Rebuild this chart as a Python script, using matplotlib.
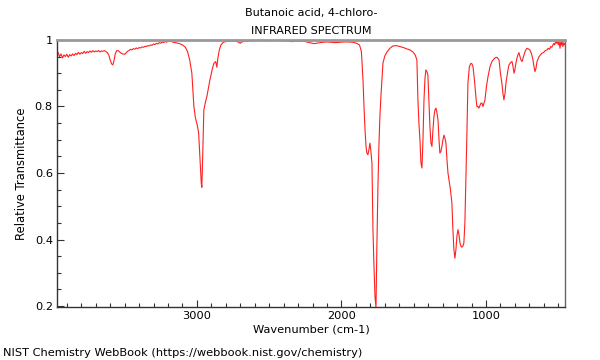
import matplotlib.pyplot as plt
from matplotlib.ticker import MultipleLocator, FormatStrFormatter

# -----------------------------
# Data
# -----------------------------
wavenumber = [
    3969, 3960, 3950, 3940, 3930, 3920, 3910, 3900, 3890, 3880, 3870, 3860,
    3850, 3840, 3830, 3820, 3810, 3800, 3790, 3780, 3770, 3760, 3750, 3740,
    3730, 3720, 3710, 3700, 3690, 3680, 3670, 3660, 3650, 3640, 3630, 3620,
    3610, 3600, 3590, 3582, 3575, 3565, 3555, 3545, 3530, 3515, 3500, 3490,
    3480, 3470, 3460, 3450, 3440, 3430, 3420, 3410, 3400, 3390, 3380, 3370,
    3360, 3350, 3340, 3330, 3320, 3310, 3300, 3290, 3280, 3270, 3260, 3250,
    3240, 3230, 3220, 3210, 3200, 3190, 3180, 3170, 3160, 3140, 3120, 3100,
    3080, 3065, 3050, 3035, 3021, 3010, 2998, 2988, 2978, 2970, 2966, 2960,
    2952, 2940, 2931, 2910, 2895, 2883, 2870, 2862, 2855, 2845, 2834, 2820,
    2806, 2780, 2750, 2720, 2700, 2690, 2660, 2620, 2580, 2540, 2500, 2460,
    2420, 2380, 2340, 2300, 2260, 2220, 2190, 2160, 2130, 2100, 2070, 2040,
    2010, 1980, 1950, 1920, 1895, 1875, 1862, 1856, 1851, 1844, 1837, 1830,
    1824, 1817, 1810, 1803, 1796, 1789, 1782, 1775, 1768, 1761, 1755, 1748,
    1741, 1734, 1727, 1713, 1700, 1685, 1665, 1644, 1620, 1596, 1570, 1547,
    1525, 1506, 1490, 1478, 1471, 1464, 1457, 1450, 1443, 1436, 1429, 1422,
    1416, 1409, 1402, 1395, 1388, 1381, 1374, 1367, 1360, 1353, 1346, 1339,
    1332, 1325, 1319, 1312, 1305, 1298, 1291, 1284, 1277, 1270, 1263, 1256,
    1246, 1236, 1229, 1222, 1215, 1208, 1201, 1194, 1187, 1180, 1173, 1167,
    1160, 1153, 1146, 1139, 1132, 1125, 1115, 1104, 1097, 1090, 1080, 1070,
    1063, 1056, 1049, 1040, 1035, 1028, 1021, 1014, 1007, 997, 986, 972,
    959, 945, 935, 924, 910, 900, 890, 883, 876, 868, 862, 855,
    848, 841, 830, 820, 813, 806, 800, 793, 786, 779, 772, 765,
    758, 751, 744, 737, 727, 717, 707, 696, 685, 675, 668, 661,
    654, 647, 635, 624, 613, 600, 590, 578, 570, 560, 553, 545,
    537, 530, 525, 518, 512, 506, 500, 494, 488, 483, 478, 474,
    468, 462, 456, 450,
]
transmittance = [
    0.955, 0.962, 0.950, 0.958, 0.946, 0.955, 0.950, 0.957, 0.948, 0.956, 0.952, 0.958,
    0.953, 0.960, 0.956, 0.963, 0.957, 0.962, 0.959, 0.966, 0.960, 0.965, 0.962, 0.967,
    0.963, 0.968, 0.964, 0.967, 0.965, 0.968, 0.964, 0.967, 0.966, 0.968, 0.965, 0.962,
    0.955, 0.940, 0.928, 0.925, 0.935, 0.958, 0.968, 0.968, 0.962, 0.958, 0.957, 0.961,
    0.966, 0.968, 0.972, 0.970, 0.974, 0.972, 0.976, 0.974, 0.977, 0.976, 0.979, 0.978,
    0.981, 0.980, 0.983, 0.982, 0.985, 0.984, 0.988, 0.986, 0.990, 0.988, 0.992, 0.990,
    0.994, 0.992, 0.996, 0.993, 0.997, 0.995, 0.998, 0.994, 0.993, 0.991, 0.989, 0.985,
    0.978, 0.965, 0.940, 0.900, 0.800, 0.765, 0.745, 0.720, 0.640, 0.570, 0.557, 0.650,
    0.790, 0.815, 0.830, 0.880, 0.910, 0.930, 0.935, 0.918, 0.945, 0.970, 0.985, 0.992,
    0.995, 0.996, 0.997, 0.995, 0.990, 0.994, 0.997, 0.998, 0.999, 0.999, 0.998, 0.999,
    0.998, 0.997, 0.995, 0.997, 0.996, 0.992, 0.989, 0.991, 0.993, 0.994, 0.993, 0.992,
    0.993, 0.994, 0.994, 0.993, 0.990, 0.985, 0.965, 0.920, 0.880, 0.800, 0.730, 0.680,
    0.660, 0.655, 0.670, 0.690, 0.665, 0.630, 0.430, 0.320, 0.227, 0.197, 0.377, 0.550,
    0.680, 0.770, 0.830, 0.930, 0.952, 0.964, 0.975, 0.982, 0.983, 0.980, 0.977, 0.973,
    0.970, 0.964, 0.955, 0.940, 0.820, 0.750, 0.700, 0.630, 0.615, 0.700, 0.820, 0.885,
    0.910, 0.905, 0.895, 0.820, 0.740, 0.690, 0.680, 0.730, 0.770, 0.790, 0.795, 0.780,
    0.760, 0.700, 0.660, 0.665, 0.680, 0.700, 0.714, 0.705, 0.690, 0.640, 0.600, 0.580,
    0.550, 0.510, 0.430, 0.370, 0.344, 0.370, 0.410, 0.430, 0.415, 0.390, 0.380, 0.377,
    0.380, 0.390, 0.450, 0.580, 0.720, 0.870, 0.920, 0.930, 0.928, 0.920, 0.880, 0.830,
    0.800, 0.800, 0.795, 0.805, 0.810, 0.810, 0.800, 0.810, 0.820, 0.860, 0.890, 0.920,
    0.935, 0.943, 0.947, 0.948, 0.940, 0.900, 0.870, 0.840, 0.820, 0.840, 0.870, 0.890,
    0.910, 0.925, 0.932, 0.935, 0.920, 0.900, 0.910, 0.930, 0.945, 0.955, 0.962, 0.950,
    0.940, 0.935, 0.945, 0.955, 0.968, 0.975, 0.973, 0.970, 0.958, 0.940, 0.920, 0.905,
    0.915, 0.935, 0.948, 0.955, 0.960, 0.963, 0.968, 0.970, 0.975, 0.972, 0.980, 0.978,
    0.985, 0.990, 0.985, 0.995, 0.990, 0.997, 0.985, 0.996, 0.975, 0.992, 0.985, 0.996,
    0.980, 0.992, 0.985, 0.990,
]

title_lines = ["Butanoic acid, 4-chloro-", "INFRARED SPECTRUM"]
footer = "NIST Chemistry WebBook (https://webbook.nist.gov/chemistry)"

plt.rcParams.update({
    "font.family": "DejaVu Sans",
    "font.size": 8,
})


def main():
    fig = plt.figure(figsize=(6, 3.6), dpi=100)
    ax = fig.add_axes([0.095, 0.147, 0.847, 0.742])

    ax.plot(wavenumber, transmittance, color="#ff2020", lw=0.8)

    ax.set_xlim(3968, 452)
    ax.set_ylim(0.197, 1.0)

    # ticks
    ax.xaxis.set_major_locator(MultipleLocator(1000))
    ax.xaxis.set_minor_locator(MultipleLocator(100))
    ax.yaxis.set_major_locator(MultipleLocator(0.2))
    ax.yaxis.set_minor_locator(MultipleLocator(0.05))
    ax.yaxis.set_major_formatter(FormatStrFormatter("%g"))
    ax.tick_params(which="both", direction="in", top=False, right=False,
                   color="#333333", labelsize=8.2)
    ax.tick_params(which="major", length=5, width=0.8, pad=3)
    ax.tick_params(which="minor", length=3, width=0.8)

    # spines
    for side in ("left", "bottom"):
        ax.spines[side].set_color("#333333")
        ax.spines[side].set_linewidth(1.0)
    ax.spines["top"].set_color("#999999")
    ax.spines["top"].set_linewidth(2.0)
    ax.spines["right"].set_color("#666666")
    ax.spines["right"].set_linewidth(1.0)

    ax.set_xlabel("Wavenumber (cm-1)", labelpad=2.5, fontsize=8.2)
    ax.set_ylabel("Relative Transmittance", labelpad=5, fontsize=8.3)

    fig.text(0.518, 0.963, title_lines[0], ha="center", va="center", fontsize=8)
    fig.text(0.518, 0.915, title_lines[1], ha="center", va="center", fontsize=8)
    fig.text(0.005, 0.0195, footer, ha="left", va="center", fontsize=8.2)

    fig.savefig("out.png", dpi=100)


if __name__ == "__main__":
    main()
